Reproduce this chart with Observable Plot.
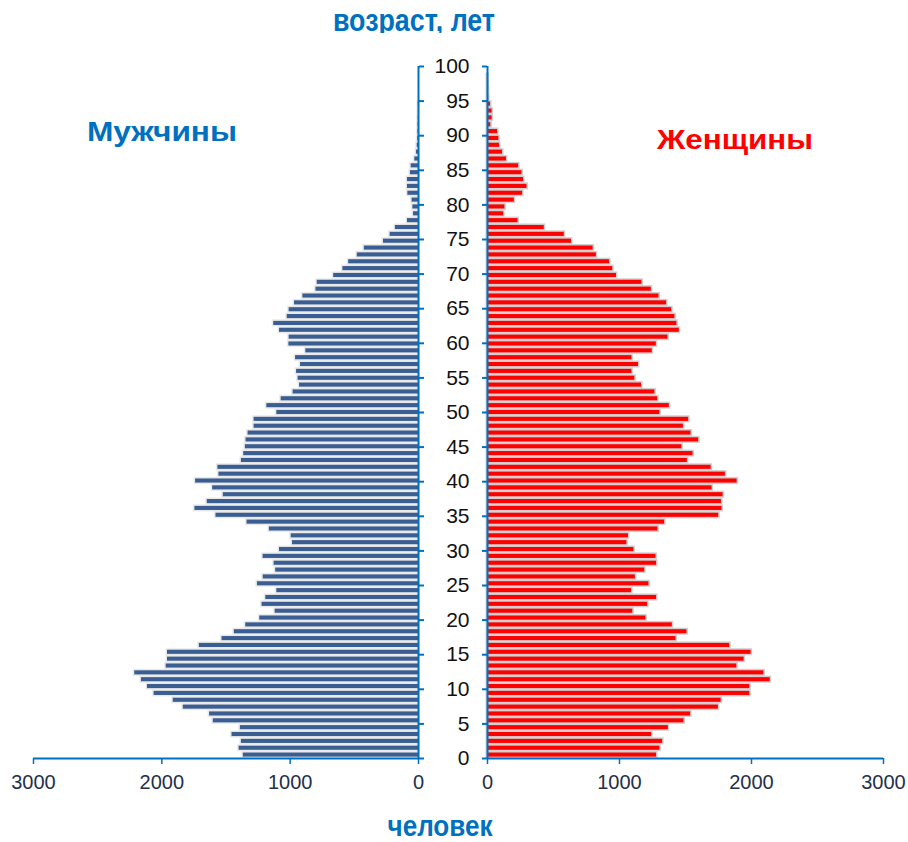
<!DOCTYPE html>
<html>
<head>
<meta charset="utf-8">
<script src="https://cdn.jsdelivr.net/npm/d3@7"></script>
<script src="https://cdn.jsdelivr.net/npm/@observablehq/plot@0.6"></script>
<style>
  body { margin: 0; background: #fff; }
  #wrap { position: relative; width: 908px; height: 842px; overflow: hidden; background: #fff;
          font-family: "Liberation Sans", Arial, sans-serif; }
  #left { position: absolute; left: 0; top: 0; width: 425px; }
  #right { position: absolute; left: 425px; top: 0; width: 483px; }
  #overlay { position: absolute; left: 0; top: 0; pointer-events: none; }
</style>
</head>
<body>
<div id="wrap">
  <div id="left"></div>
  <div id="right"></div>
  <svg id="overlay" width="908" height="842" xmlns="http://www.w3.org/2000/svg">
    <defs>
      <clipPath id="topclip"><rect x="0" y="0" width="908" height="33"></rect></clipPath>
    </defs>
    <g clip-path="url(#topclip)">
      <text x="414" y="31" text-anchor="middle" font-weight="bold" font-size="32" fill="#0070C0"
            font-family="Liberation Sans, Arial, sans-serif" textLength="162" lengthAdjust="spacingAndGlyphs">возраст, лет</text>
    </g>
    <text x="440" y="836" text-anchor="middle" font-weight="bold" font-size="30" fill="#0070C0"
          font-family="Liberation Sans, Arial, sans-serif" textLength="105" lengthAdjust="spacingAndGlyphs">человек</text>
    <text x="162" y="141" text-anchor="middle" font-weight="bold" font-size="28" fill="#0070C0"
          font-family="Liberation Sans, Arial, sans-serif" textLength="150" lengthAdjust="spacingAndGlyphs">Мужчины</text>
    <text x="735" y="149" text-anchor="middle" font-weight="bold" font-size="28" fill="#FF0000"
          font-family="Liberation Sans, Arial, sans-serif" textLength="156" lengthAdjust="spacingAndGlyphs">Женщины</text>
  </svg>
</div>
<script>
// ---- data ----
const ages = d3.range(0, 101);
const male = [
  1365, 1398, 1380, 1453, 1388, 1599, 1628, 1833, 1911, 2060,
  2112, 2159, 2211, 1966, 1956, 1956, 1708, 1531, 1435, 1346,
  1237, 1117, 1219, 1190, 1104, 1255, 1210, 1113, 1125, 1211,
  1083, 982, 992, 1162, 1336, 1578, 1742, 1646, 1521, 1604,
  1737, 1555, 1563, 1380, 1362, 1349, 1344, 1328, 1281, 1281,
  1104, 1182, 1070, 977, 927, 938, 950, 919, 958, 878,
  1010, 1008, 1083, 1128, 1023, 1008, 966, 901, 799, 789,
  661, 589, 544, 477, 422, 273, 221, 180, 86, 39,
  44, 50, 83, 86, 86, 63, 57, 29, 16, 10,
  6, 4, 3, 2, 1, 1, 0, 0, 0, 0, 0
];
const female = [
  1281, 1306, 1327, 1243, 1370, 1489, 1539, 1749, 1770, 1987,
  1987, 2142, 2094, 1889, 1944, 1997, 1835, 1428, 1511, 1400,
  1200, 1101, 1213, 1281, 1091, 1223, 1120, 1191, 1281, 1276,
  1109, 1056, 1068, 1291, 1342, 1752, 1777, 1772, 1785, 1701,
  1891, 1802, 1694, 1514, 1557, 1473, 1600, 1542, 1484, 1524,
  1306, 1377, 1289, 1268, 1167, 1116, 1094, 1144, 1094, 1248,
  1279, 1367, 1453, 1435, 1420, 1395, 1357, 1299, 1241, 1170,
  977, 949, 924, 825, 800, 636, 582, 430, 231, 122,
  132, 203, 266, 299, 273, 261, 236, 144, 114, 91,
  86, 76, 25, 35, 35, 23, 8, 6, 4, 2, 0
];
const yTicks = d3.range(0, 101, 5);
const xTicks = [0, 1000, 2000, 3000];

// ---- styling ----
const AX = "#0070C0";
const BLUE = "#3A5E92";
const RED = "#FF0000";
const FONT = "Liberation Sans, Arial, sans-serif";

const rows = ages.map((a, i) => ({ age: a, m: male[i], f: female[i] }));
const slot = 100 / ages.length;  // 101 categories spread over the 0–100 axis

const common = {
  height: 800,
  marginTop: 66,
  marginBottom: 42,
  y: { domain: [0, 100] },
  style: { fontFamily: FONT, fontSize: "20px", background: "transparent", overflow: "visible" }
};

const left = Plot.plot({
  ...common,
  width: 425,
  marginLeft: 33,
  marginRight: 7,
  x: { domain: [3000, 0] },
  marks: [
    Plot.rect(rows, {
      x1: 0, x2: "m",
      y1: d => (d.age + 0.2) * slot, y2: d => (d.age + 0.8) * slot,
      fill: BLUE, stroke: "#e9e9e9", strokeWidth: 3, paintOrder: "stroke"
    }),
    Plot.axisX({ anchor: "bottom", ticks: xTicks, tickSize: 6, tickPadding: 10,
      tickFormat: d3.format("d"), stroke: AX, strokeWidth: 1.5, fill: "#22304a",
      fontSize: 20, label: null }),
    Plot.axisY({ anchor: "right", ticks: yTicks, tickSize: 5, tickFormat: () => "",
      stroke: AX, strokeWidth: 2, label: null }),
    Plot.ruleY([0], { stroke: AX, strokeWidth: 2 }),
    Plot.ruleX([0], { stroke: AX, strokeWidth: 2 })
  ]
});

const right = Plot.plot({
  ...common,
  width: 483,
  marginLeft: 62,
  marginRight: 25,
  x: { domain: [0, 3000] },
  marks: [
    Plot.rect(rows, {
      x1: 0, x2: "f",
      y1: d => (d.age + 0.2) * slot, y2: d => (d.age + 0.8) * slot,
      fill: RED, stroke: "#cfcfcf", strokeWidth: 3, paintOrder: "stroke"
    }),
    Plot.axisX({ anchor: "bottom", ticks: xTicks, tickSize: 6, tickPadding: 10,
      tickFormat: d3.format("d"), stroke: AX, strokeWidth: 1.5, fill: "#22304a",
      fontSize: 20, label: null }),
    Plot.axisY({ anchor: "left", ticks: yTicks, tickSize: 5, tickPadding: 13,
      tickFormat: d3.format("d"), stroke: AX, strokeWidth: 2, fill: "#111",
      fontSize: 21, label: null }),
    Plot.ruleY([0], { stroke: AX, strokeWidth: 2 }),
    Plot.ruleX([0], { stroke: AX, strokeWidth: 2 })
  ]
});

document.getElementById("left").appendChild(left);
document.getElementById("right").appendChild(right);
</script>
</body>
</html>
